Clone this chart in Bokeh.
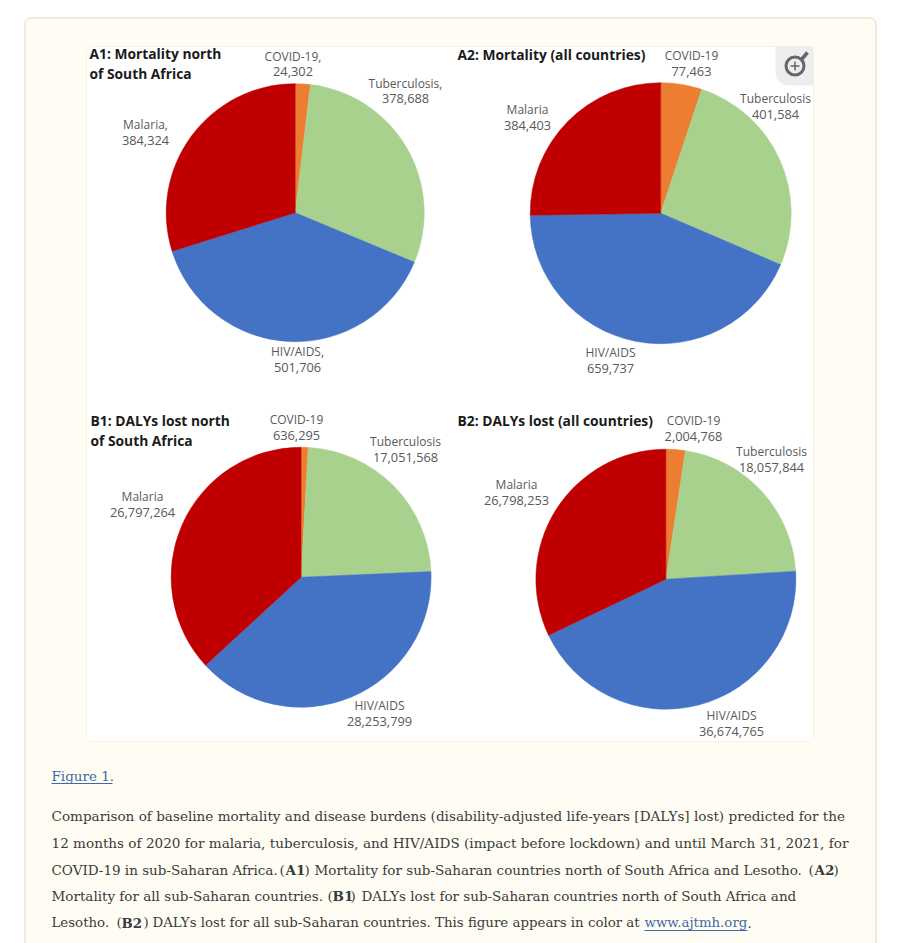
from bokeh.plotting import figure
from bokeh.models import Range1d
from bokeh.core.properties import value
from bokeh.embed import file_html
from bokeh.resources import INLINE
import math

# ---------- data ----------
categories = ["COVID-19", "Tuberculosis", "HIV/AIDS", "Malaria"]
a1_values = [24302, 378688, 501706, 384324]
a2_values = [77463, 401584, 659737, 384403]
b1_values = [636295, 17051568, 28253799, 26797264]
b2_values = [2004768, 18057844, 36674765, 26798253]
colors = ["#ED7D31", "#A9D18E", "#4472C4", "#C00000"]

a1_title = ["A1: Mortality north", "of South Africa"]
a2_title = ["A2: Mortality (all countries)"]
b1_title = ["B1: DALYs lost north", "of South Africa"]
b2_title = ["B2: DALYs lost (all countries)"]

figure_link = "Figure 1."
caption = [
    [("Comparison of baseline mortality and disease burdens (disability-adjusted life-years [DALYs] lost) predicted for the", 0, 51)],
    [("12 months of 2020 for malaria, tuberculosis, and HIV/AIDS (impact before lockdown) and until March 31, 2021, for", 0, 51)],
    [("COVID-19 in sub-Saharan Africa.", 0, 51), ("(", 0, 279), ("A1", 1, 285), (")", 0, 304),
     ("Mortality for sub-Saharan countries north of South Africa and Lesotho.", 0, 314),
     ("(", 0, 808), ("A2", 1, 814), (")", 0, 833)],
    [("Mortality for all sub-Saharan countries.", 0, 51), ("(", 0, 327), ("B1", 1, 332), (")", 0, 350),
     ("DALYs lost for sub-Saharan countries north of South Africa and", 0, 361)],
    [("Lesotho.", 0, 51), ("(", 0, 116), ("B2", 1, 121), (")", 0, 143),
     ("DALYs lost for all sub-Saharan countries. This figure appears in color at", 0, 152),
     ("www.ajtmh.org", 2, 644), (".", 0, 747)],
]

# ---------- layout (page pixels; y measured from the top of the window) ----------
W, H = 900, 943
LABEL_FONT = value("Open Sans")
BODY_FONT = value("DejaVu Serif")
LABEL_COLOR = "#595959"


def Y(py):
    return 943 - py


p = figure(width=W, height=H, output_backend="svg", toolbar_location=None,
           x_range=Range1d(0, 900), y_range=Range1d(0, 943),
           min_border=0, outline_line_color=None, border_fill_color="white",
           background_fill_color="white")
p.xaxis.visible = False
p.yaxis.visible = False
p.grid.visible = False

# card and white panel
p.quad(left=[24.5], right=[875.5], top=[Y(17.5)], bottom=[Y(990)],
       fill_color="#FFFDF3", line_color="#E6D5BE", line_width=1, border_radius=6)
p.quad(left=[86], right=[813], top=[Y(46)], bottom=[Y(741)],
       fill_color="white", line_color="#F5F2E6", line_width=1, border_radius=6)


def pie(values, cx, cy, r):
    total = sum(values)
    start = math.pi / 2
    for v, c in zip(values, colors):
        end = start - 2 * math.pi * v / total
        p.wedge(x=[cx], y=[Y(cy)], radius=r, start_angle=[start], end_angle=[end],
                direction="clock", fill_color=c, line_color=c, line_width=0.5)
        start = end


def labels(values, positions, comma=False):
    for cat, v, (x, y1, y2) in zip(categories, values, positions):
        suffix = "," if comma else ""
        for txt, yy, size in ((cat + suffix, y1, "12px"), (f"{v:,}", y2, "12.8px")):
            p.text(x=[x], y=[Y(yy)], text=[txt], text_font=LABEL_FONT, text_font_size=size,
                   text_color=LABEL_COLOR, text_align="center", text_baseline="middle")


def title(lines, x, ys):
    for t, yy in zip(lines, ys):
        p.text(x=[x], y=[Y(yy)], text=[t], text_font=LABEL_FONT, text_font_size="13.8px",
               text_font_style="bold", text_color="#1a1a1a", text_align="left", text_baseline="middle")


pie(a1_values, 294.7, 212.2, 129)
pie(a2_values, 660.2, 212.7, 130.5)
pie(b1_values, 300.6, 576.7, 130)
pie(b2_values, 665.4, 578.7, 130)

labels(a1_values, [(292.5, 56, 71), (405, 83, 98), (297, 351, 367), (145, 124, 140)], comma=True)
labels(a2_values, [(691, 55, 71), (775, 98, 114), (610, 352, 368), (527, 109, 125)])
labels(b1_values, [(296, 419, 435), (405, 441, 457), (379, 705, 721), (142, 496, 512)])
labels(b2_values, [(693, 420, 436), (771, 451, 467), (731, 715, 731), (516, 484, 500)])

title(a1_title, 89, [53, 73])
title(a2_title, 457, [54])
title(b1_title, 90, [420, 440])
title(b2_title, 457, [420])

# magnifier badge
p.quad(left=[775], right=[813], top=[Y(46)], bottom=[Y(85)], fill_color="#EDEDED",
       line_color=None, border_radius=(0, 0, 0, 14))
p.line(x=[801, 807], y=[Y(59), Y(52)], line_color="#666666", line_width=3.5)
p.scatter(x=[794.5], y=[Y(65.5)], size=18, marker="circle", fill_color="#EDEDED",
          line_color="#666666", line_width=3)
p.scatter(x=[794.5], y=[Y(65.5)], size=9, marker="cross", line_color="#666666", line_width=1.5)

# caption
LINK = "#3F6AA6"
BODY = "#3a3a3a"
p.text(x=[51], y=[Y(775)], text=[figure_link], text_font=BODY_FONT, text_font_size="13.5px",
       text_color=LINK, text_align="left", text_baseline="middle")
p.line(x=[51, 112], y=[Y(783), Y(783)], line_color=LINK, line_width=1)

sizes = ["13.57px", "13.58px", "13.5px", "13.5px", "13.35px"]
for row, yy, size in zip(caption, [815, 842, 869, 895, 922], sizes):
    for txt, kind, x in row:
        p.text(x=[x], y=[Y(yy)], text=[txt], text_font=BODY_FONT, text_font_size=size,
               text_font_style="bold" if kind == 1 else "normal",
               text_color=LINK if kind == 2 else BODY, text_align="left", text_baseline="middle")
        if kind == 2:
            p.line(x=[x, 747], y=[Y(yy + 8), Y(yy + 8)], line_color=LINK, line_width=1)

open("out.html", "w").write(file_html(p, INLINE))
